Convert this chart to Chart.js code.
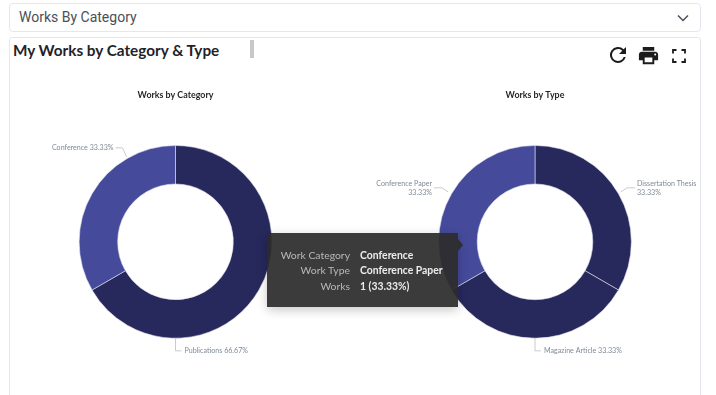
<!DOCTYPE html>
<html><head><meta charset="utf-8">
<script src="https://cdn.jsdelivr.net/npm/chart.js@4"></script>
<style>
html,body{margin:0;padding:0;background:#fff;width:716px;height:395px;overflow:hidden;font-family:Roboto,sans-serif}
.box{position:absolute;box-sizing:border-box;border:1.5px solid #e4e8ee;background:#fff}
#sel{left:9px;top:3px;width:692px;height:29px;border-radius:4px;font-size:14px;color:#4a4f57;line-height:27px;padding-left:9px}
#card{left:9px;top:37px;width:692px;height:370px;border-radius:3px}
#head{position:absolute;left:13px;top:40px;font:700 15.3px/20px Lato,sans-serif;color:#1f2328;white-space:nowrap}
#bar{position:absolute;left:250px;top:40px;width:4px;height:18px;background:#c8c8c8}
canvas{position:absolute}
#c1{left:0;top:88px}#c2{left:359px;top:88px}
svg{position:absolute}
#tip{position:absolute;left:267px;top:233px;width:191px;height:74px;background:rgba(44,44,44,.93);box-shadow:0 3px 10px rgba(0,0,0,.22);font:10.4px/15.5px Lato,sans-serif;color:#b9b9b9}
#tip:after{content:"";position:absolute;left:191px;top:6px;border:6px solid transparent;border-left:5px solid rgba(44,44,44,.93);border-right:0}
#tip div{position:absolute;white-space:nowrap}
#tip .k{right:108px;text-align:right}
#tip .v{left:93px;font-weight:700;color:#ececec}
</style></head><body>
<div class="box" id="sel">Works By Category</div>
<svg style="left:676px;top:12px" width="14" height="12" viewBox="0 0 14 12"><path d="M2 3.500 7 8.500 12 3.500" fill="none" stroke="#4a4f57" stroke-width="1.500"/></svg>
<div class="box" id="card"></div>
<div id="head">My Works by Category &amp; Type</div>
<div id="bar"></div>
<svg style="left:606px;top:43px" width="24" height="24" viewBox="0 0 24 24"><path fill="#1c1c1c" d="M17.65 6.35A8 8 0 1 0 19.73 14h-2.08A6 6 0 1 1 12 6c1.66 0 3.14.69 4.22 1.78L13 11h7V4z"/></svg>
<svg style="left:637px;top:44px" width="23" height="23" viewBox="0 0 24 24"><path fill="#1c1c1c" d="M19 8H5c-1.66 0-3 1.34-3 3v6h4v4h12v-4h4v-6c0-1.66-1.34-3-3-3zm-3 11H8v-5h8v5zm3-7c-.55 0-1-.45-1-1s.45-1 1-1 1 .45 1 1-.45 1-1 1zm-1-9H6v4h12V3z"/></svg>
<svg style="left:672px;top:49px" width="14" height="14" viewBox="0 0 14 14"><path fill="none" stroke="#1c1c1c" stroke-width="1.800" d="M1 4.500V1H4.500M9.500 1H13V4.500M13 9.500V13H9.500M4.500 13H1V9.500"/></svg>
<canvas id="c1" width="351" height="307"></canvas>
<canvas id="c2" width="352" height="307"></canvas>
<div id="tip">
<div class="k" style="top:15px">Work Category</div><div class="v" style="top:15px">Conference</div>
<div class="k" style="top:30px">Work Type</div><div class="v" style="top:30px">Conference Paper</div>
<div class="k" style="top:46px">Works</div><div class="v" style="top:46px">1 (33.33%)</div>
</div>
<script>
const categoryLabels = ["Publications", "Conference"];
const categoryValues = [2, 1];
const categoryPercents = ["66.67%", "33.33%"];
const typeLabels = ["Dissertation Thesis", "Magazine Article", "Conference Paper"];
const typeValues = [1, 1, 1];
const typePercents = ["33.33%", "33.33%", "33.33%"];
const DARK = "#27285c", BLUE = "#454a9b";

// leader lines: offsets from chart centre, styling only
const leaderPlugin = {
  id: "leaders",
  afterDraw(chart, args, opts) {
    const c = chart.ctx, a = chart.getDatasetMeta(0).data[0];
    const cx = a.x, cy = a.y;
    c.save();
    opts.items.forEach(it => {
      c.strokeStyle = "#c9cbce"; c.lineWidth = 1; c.beginPath();
      it.line.forEach((p, i) => { const x = cx + p[0], y = cy + p[1]; i ? c.lineTo(x, y) : c.moveTo(x, y); });
      c.stroke();
      c.font = '7.1px Lato,sans-serif';
      c.fillStyle = "#7f8a97"; c.textAlign = it.align; c.textBaseline = "middle";
      it.text.forEach((t, i) => c.fillText(t, cx + it.at[0], cy + it.at[1] + i * 9));
    });
    c.restore();
  }
};

function donut(id, title, labels, values, colors, items) {
  return new Chart(document.getElementById(id), {
    type: "doughnut",
    data: { labels, datasets: [{ data: values, backgroundColor: colors, borderColor: "#dfe0ee", borderWidth: 0.6, hoverOffset: 0 }] },
    options: {
      responsive: false, animation: false, cutout: "60%",
      layout: { padding: { bottom: 56.5 } },
      plugins: {
        legend: { display: false }, tooltip: { enabled: false },
        title: { display: true, text: title, color: "#1f2328", font: { family: 'Lato,sans-serif', size: 8.9, weight: "bold" }, padding: { top: 2, bottom: 44.500 } },
        leaders: { items }
      }
    },
    plugins: [leaderPlugin]
  });
}

donut("c1", "Works by Category", categoryLabels, categoryValues, [DARK, BLUE], [
  { text: [categoryLabels[0] + " " + categoryPercents[0]], align: "left", at: [9, 109], line: [[0, 97], [0, 109], [6, 109]] },
  { text: [categoryLabels[1] + " " + categoryPercents[1]], align: "right", at: [-62, -94], line: [[-49, -85], [-53, -94], [-60, -94]] }
]);
donut("c2", "Works by Type", typeLabels, typeValues, [DARK, DARK, BLUE], [
  { text: [typeLabels[0], typePercents[0]], align: "left", at: [102, -58], line: [[86, -50], [92, -54], [100, -54]] },
  { text: [typeLabels[1] + " " + typePercents[1]], align: "left", at: [9, 109], line: [[0, 97], [0, 109], [6, 109]] },
  { text: [typeLabels[2], typePercents[2]], align: "right", at: [-103, -58], line: [[-87, -50], [-93, -54], [-101, -54]] }
]);
</script>
</body></html>
